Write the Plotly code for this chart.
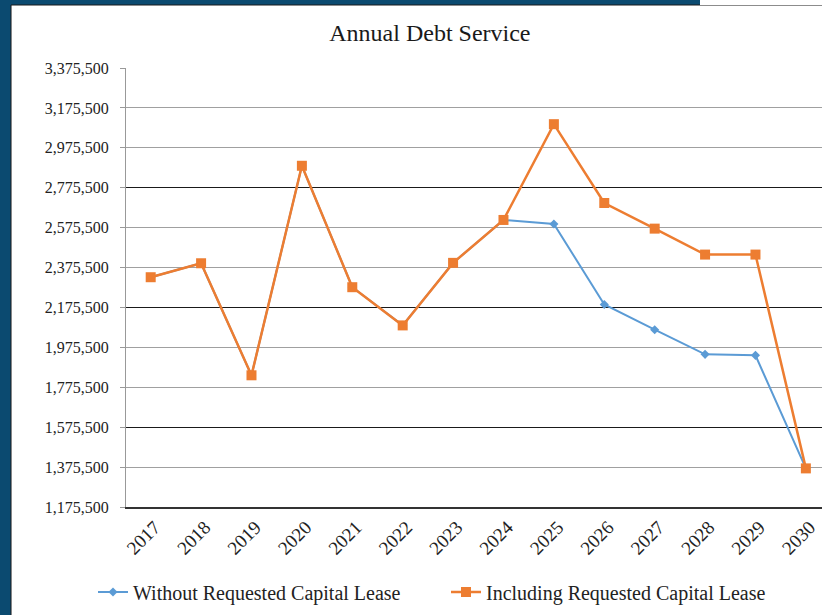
import plotly.graph_objects as go

# Annual debt service by fiscal year
years = [str(y) for y in range(2017, 2031)]
without_lease = [2327000, 2397000, 1835500, 2885500, 2277000, 2085500, 2399000,
                 2614000, 2594000, 2190500, 2064000, 1940500, 1935500, 1369000]
including_lease = [2327000, 2397000, 1835500, 2885500, 2277000, 2085500, 2399000,
                   2614000, 3094000, 2699000, 2570500, 2440500, 2440500, 1369000]
y_ticks = list(range(1175500, 3375501, 200000))
dark_ticks = [1575500, 2175500, 2775500]

SERIF = "Liberation Serif"
NAVY = "#0b4a70"
BLUE = "#5b9bd5"
ORANGE = "#ed7d31"

fig = go.Figure()
# carrier trace so the overlaid axis (darker grid rules) gets drawn
fig.add_trace(go.Scatter(
    x=years, y=[None] * len(years), yaxis="y2",
    showlegend=False, hoverinfo="skip", mode="lines",
))
fig.add_trace(go.Scatter(
    x=years, y=without_lease, name="Without Requested Capital Lease",
    mode="lines+markers", legend="legend",
    line=dict(color=BLUE, width=2),
    marker=dict(symbol="diamond", size=7, color=BLUE),
))
fig.add_trace(go.Scatter(
    x=years, y=including_lease, name="Including Requested Capital Lease",
    mode="lines+markers", legend="legend2",
    line=dict(color=ORANGE, width=2.5),
    marker=dict(symbol="square", size=10, color=ORANGE),
))

# white card framed by the navy page background
fig.add_shape(type="rect", xref="paper", yref="paper",
              x0=-0.1652, x1=1.05, y0=-0.3, y1=1.1435,
              fillcolor="white", line=dict(color="#1a1a1a", width=1),
              layer="below")
fig.add_shape(type="rect", xref="paper", yref="paper",
              x0=(700 - 126) / 696, x1=1.05, y0=1.1435, y1=1.2,
              fillcolor="white", line=dict(width=0), layer="below")

legend_common = dict(orientation="h", xref="container", yref="container",
                     xanchor="left", y=1 - 592 / 615, yanchor="middle",
                     font=dict(family=SERIF, size=20, color="#222222"),
                     bgcolor="rgba(0,0,0,0)")

fig.update_layout(
    width=822, height=615,
    margin=dict(l=126, r=0, t=68, b=108),
    paper_bgcolor=NAVY,
    plot_bgcolor="white",
    font=dict(family=SERIF, color="#222222"),
    title=dict(text="Annual Debt Service", xref="container", x=0.523,
               xanchor="center", y=1 - 33 / 615, yanchor="middle",
               font=dict(family=SERIF, size=24, color="#1a1a1a")),
    showlegend=True,
    legend=dict(x=93 / 822, **legend_common),
    legend2=dict(x=446 / 822, **legend_common),
    xaxis=dict(
        type="category", range=[-0.49, 13.32],
        showgrid=False, zeroline=False,
        showline=True, linecolor="#333333", linewidth=1.5,
        ticks="", tickangle=-45, ticklabelshift=4,
        tickfont=dict(family=SERIF, size=19, color="#222222"),
    ),
    yaxis=dict(
        range=[1175500, 3375500], tickvals=y_ticks, tickformat=",",
        showgrid=True, gridcolor="#a0a0a0", gridwidth=1,
        zeroline=False, showline=True, linecolor="#999999", linewidth=1,
        ticks="outside", ticklen=5, tickcolor="#999999",
        ticklabelstandoff=8,
        tickfont=dict(family=SERIF, size=16, color="#222222"),
    ),
    yaxis2=dict(
        overlaying="y", side="left", range=[1175500, 3375500],
        tickvals=dark_ticks, showticklabels=False, ticks="",
        showgrid=True, gridcolor="#1a1a1a", gridwidth=1,
        zeroline=False, showline=False,
    ),
)

fig.write_html("out.html")
